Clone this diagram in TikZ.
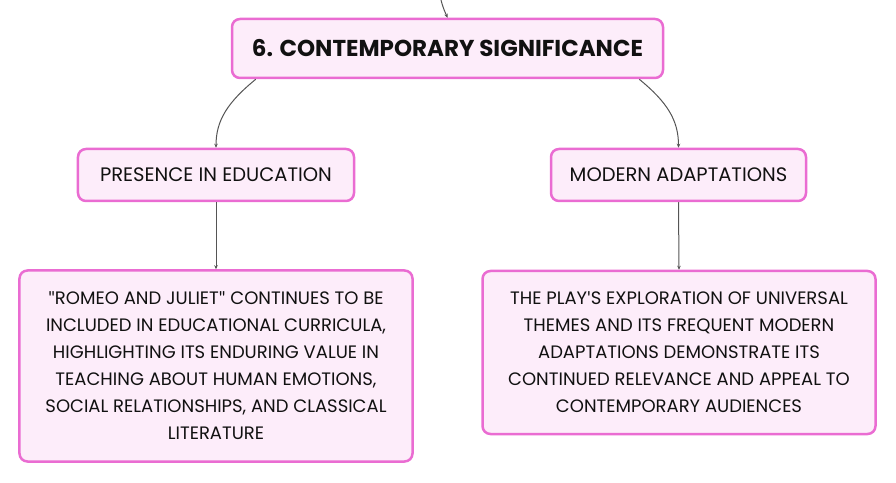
\documentclass[tikz,border=0pt]{standalone}
\usepackage{fontspec}
\setmainfont{Poppins}
\newfontfamily\quotefont{Lato}
\newcommand{\dq}{{\quotefont\symbol{34}}}
\newcommand{\sq}{{\quotefont\symbol{39}}}
\usetikzlibrary{arrows.meta}
\definecolor{boxborder}{HTML}{EA6CD2}
\definecolor{boxfill}{HTML}{FDEDFA}
\definecolor{linkcol}{HTML}{555555}
\definecolor{txt}{HTML}{111111}
\tikzset{
  box/.style={draw=boxborder, fill=boxfill, line width=2.5bp, rounded corners=8bp, text=txt, inner sep=0pt, align=center},
  link/.style={draw=linkcol, line width=1bp, -{Stealth[length=4bp,width=3.5bp]}},
}
\begin{document}
\begin{tikzpicture}[x=1bp,y=-1bp]
\useasboundingbox (0,0) rectangle (896,483);
\node[box, minimum width=431bp, minimum height=59bp, font=\fontsize{23bp}{26bp}\selectfont\bfseries] (title) at (447.5,48.5) {6. CONTEMPORARY SIGNIFICANCE};
\node[box, minimum width=276bp, minimum height=52bp, font=\fontsize{19.5bp}{22bp}\selectfont] (pres) at (216,175) {PRESENCE IN EDUCATION};
\node[box, minimum width=255bp, minimum height=52bp, font=\fontsize{19.5bp}{22bp}\selectfont] (adapt) at (678.5,175) {MODERN ADAPTATIONS};
\node[box, minimum width=393bp, minimum height=191bp, font=\fontsize{18bp}{27bp}\selectfont] (leafl) at (216,366) {\dq ROMEO AND JULIET\dq{} CONTINUES TO BE\\INCLUDED IN EDUCATIONAL CURRICULA,\\HIGHLIGHTING ITS ENDURING VALUE IN\\TEACHING ABOUT HUMAN EMOTIONS,\\SOCIAL RELATIONSHIPS, AND CLASSICAL\\LITERATURE};
\node[box, minimum width=393bp, minimum height=163bp, font=\fontsize{18bp}{27bp}\selectfont] (leafr) at (679,352.5) {THE PLAY\sq S EXPLORATION OF UNIVERSAL\\THEMES AND ITS FREQUENT MODERN\\ADAPTATIONS DEMONSTRATE ITS\\CONTINUED RELEVANCE AND APPEAL TO\\CONTEMPORARY AUDIENCES};
\coordinate (top) at (441,0);
\draw[link] (top) .. controls (443,8) and (445,12) .. (title.north);
\draw[link] ([xshift=25bp]title.south west) .. controls (228,102) and (216,120) .. (pres.north);
\draw[link] ([xshift=-25bp]title.south east) .. controls (667,102) and (678.5,120) .. (adapt.north);
\draw[link] (pres.south) -- (leafl.north);
\draw[link] (adapt.south) -- (leafr.north);
\end{tikzpicture}
\end{document}
